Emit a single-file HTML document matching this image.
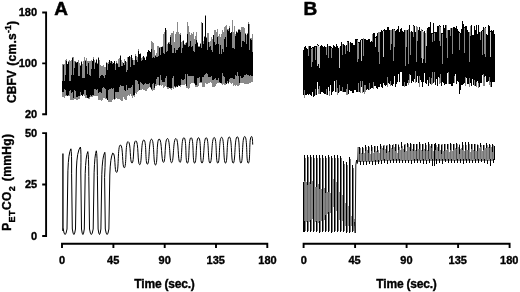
<!DOCTYPE html>
<html><head><meta charset="utf-8"><title>Figure</title>
<style>
html,body{margin:0;padding:0;background:#fff;}
svg{display:block;}
text{font-family:"Liberation Sans",sans-serif;font-weight:bold;fill:#000;stroke:#000;stroke-width:0.35px;}
.t{font-size:11px;}
.l{font-size:12px;}
.p{font-size:19px;stroke-width:0.5px;}
</style></head><body>
<svg width="520" height="292" viewBox="0 0 520 292">
<defs><filter id="soft" x="-5%" y="-5%" width="110%" height="110%"><feGaussianBlur stdDeviation="0.4"/></filter></defs>
<rect width="520" height="292" fill="#fff"/>
<!-- axes -->
<g stroke="#000" stroke-width="1.9" fill="none" stroke-linecap="butt">
<path d="M42.2 12.5H46.1V114.2H42.2M42.2 63.4H46.1"/>
<path d="M42.2 133.1H46.1V236H42.2M42.2 184.5H46.1"/>
<path d="M62 247.9V243.7H267.3V247.9M113.4 243.7V247.9M164.7 243.7V247.9M216 243.7V247.9"/>
<path d="M303.6 247.9V243.7H509.6V247.9M355.1 243.7V247.9M406.6 243.7V247.9M458.1 243.7V247.9"/>
</g>
<g shape-rendering="crispEdges" filter="url(#soft)">
<path d="M62.5 63.5V96.8M63.5 63.6V97.2M64.5 64.0V97.5M65.5 60.4V96.1M66.5 59.4V96.3M67.5 63.5V95.9M68.5 61.2V95.6M69.5 59.6V95.7M70.5 61.0V100.0M71.5 60.1V99.7M72.5 57.4V99.7M73.5 57.4V99.7M74.5 60.6V99.4M75.5 60.6V99.2M76.5 62.1V100.2M77.5 62.0V99.8M78.5 59.9V99.0M79.5 62.8V99.1M80.5 64.7V96.3M81.5 61.3V95.3M82.5 63.7V95.6M83.5 60.7V95.4M84.5 56.9V95.9M85.5 60.4V98.0M86.5 57.9V97.9M87.5 61.0V97.8M88.5 60.8V98.5M89.5 60.8V98.7M90.5 61.2V96.8M91.5 60.3V97.3M92.5 60.5V96.8M93.5 57.0V96.2M94.5 59.8V95.6M95.5 62.4V95.8M96.5 59.4V96.2M97.5 62.8V96.1M98.5 57.1V100.1M99.5 59.6V100.4M100.5 64.5V99.7M101.5 65.6V100.7M102.5 65.6V100.1M103.5 64.5V97.6M104.5 66.8V97.9M105.5 66.5V99.0M106.5 62.4V98.8M107.5 62.8V100.3M108.5 61.7V102.0M109.5 60.1V102.2M110.5 61.2V102.2M111.5 60.7V102.2M112.5 62.1V99.7M113.5 62.6V99.3M114.5 60.5V99.5M115.5 63.9V98.6M116.5 61.4V98.4M117.5 62.8V98.6M118.5 59.2V99.2M119.5 58.1V99.1M120.5 55.4V100.4M121.5 60.4V101.2M122.5 61.9V100.7M123.5 62.5V97.3M124.5 59.2V99.2M125.5 60.8V100.0M126.5 62.2V99.8M127.5 57.0V96.0M128.5 56.8V95.0M129.5 56.0V95.9M130.5 56.8V94.3M131.5 54.6V95.5M132.5 58.1V97.7M133.5 60.1V96.3M134.5 59.6V96.7M135.5 54.3V93.0M136.5 55.6V93.7M137.5 56.8V92.0M138.5 49.2V90.5M139.5 54.0V90.1M140.5 53.4V90.2M141.5 57.6V90.1M142.5 56.8V89.2M143.5 55.5V90.1M144.5 57.0V90.4M145.5 59.7V90.9M146.5 55.7V90.5M147.5 52.3V89.0M148.5 50.0V88.2M149.5 50.7V87.0M150.5 52.2V88.2M151.5 41.0V89.6M152.5 42.0V90.5M153.5 43.1V90.3M154.5 49.8V90.0M155.5 54.5V85.6M156.5 52.9V86.2M157.5 45.5V85.3M158.5 46.0V85.3M159.5 47.0V85.7M160.5 47.1V84.6M161.5 46.6V85.7M162.5 45.9V85.2M163.5 33.5V87.5M164.5 32.2V86.7M165.5 28.0V86.2M166.5 30.0V86.7M167.5 43.8V88.9M168.5 42.2V89.1M169.5 41.6V88.3M170.5 35.4V88.7M171.5 33.2V89.5M172.5 33.3V87.9M173.5 31.4V88.5M174.5 41.8V87.2M175.5 33.7V88.1M176.5 32.1V87.1M177.5 22.0V86.6M178.5 31.7V86.4M179.5 34.2V85.8M180.5 33.0V86.5M181.5 41.8V85.1M182.5 40.8V84.6M183.5 40.3V85.2M184.5 44.0V85.0M185.5 43.4V84.2M186.5 42.3V87.8M187.5 22.0V88.4M188.5 26.0V89.1M189.5 32.0V88.1M190.5 34.5V83.6M191.5 33.1V83.4M192.5 33.6V83.4M193.5 32.4V83.1M194.5 38.6V84.3M195.5 35.9V86.6M196.5 32.0V86.8M197.5 42.3V86.5M198.5 45.5V85.6M199.5 46.3V83.0M200.5 43.0V83.4M201.5 22.0V83.2M202.5 23.0V86.7M203.5 40.8V86.9M204.5 35.6V86.6M205.5 15.0V83.4M206.5 36.8V84.2M207.5 33.0V84.3M208.5 33.4V82.6M209.5 41.8V82.5M210.5 40.7V82.2M211.5 37.4V83.3M212.5 39.0V86.6M213.5 34.5V87.0M214.5 30.0V87.4M215.5 29.6V86.2M216.5 31.7V84.1M217.5 29.3V83.3M218.5 36.3V83.3M219.5 34.2V82.7M220.5 37.2V82.6M221.5 34.1V84.1M222.5 29.7V84.6M223.5 32.4V84.2M224.5 26.8V85.4M225.5 26.0V84.7M226.5 25.4V84.1M227.5 29.3V83.2M228.5 29.3V84.2M229.5 26.4V82.2M230.5 32.6V82.8M231.5 31.5V83.5M232.5 20.0V83.0M233.5 32.1V85.6M234.5 25.9V85.1M235.5 34.4V85.6M236.5 30.8V84.9M237.5 31.9V85.6M238.5 28.7V85.9M239.5 28.9V85.3M240.5 30.0V82.6M241.5 27.2V83.1M242.5 26.5V82.5M243.5 27.0V83.4M244.5 28.2V83.7M245.5 32.5V84.2M246.5 35.3V83.7M247.5 32.9V84.0M248.5 22.0V83.7M249.5 24.0V83.1M250.5 38.2V82.5M251.5 38.2V82.1M252.5 34.1V82.3" stroke="#8a8a8a" stroke-width="1" fill="none"/>
<path d="M62.5 81.0V92.2M63.5 65.4V91.8M64.5 81.2V88.9M65.5 75.3V89.7M66.5 61.3V95.4M67.5 63.9V95.9M68.5 61.9V94.6M69.5 81.2V90.8M70.5 80.7V89.8M71.5 74.6V93.1M72.5 58.2V92.4M73.5 74.6V97.9M74.5 67.9V90.2M75.5 62.4V91.1M76.5 63.0V96.7M77.5 62.2V96.6M78.5 75.7V95.8M79.5 76.2V96.4M80.5 66.4V91.7M81.5 61.6V94.9M82.5 77.9V95.5M83.5 77.6V93.6M84.5 77.5V90.2M85.5 61.0V90.2M86.5 66.2V95.1M87.5 74.3V97.5M88.5 62.6V98.2M89.5 74.8V97.1M90.5 75.6V95.2M91.5 69.1V96.2M92.5 61.1V94.5M93.5 58.5V95.3M94.5 68.8V89.1M95.5 62.6V88.6M96.5 60.0V89.9M97.5 63.6V89.2M98.5 57.5V92.9M99.5 77.7V91.7M100.5 75.5V91.7M101.5 74.9V92.5M102.5 75.4V88.3M103.5 75.9V87.2M104.5 78.1V88.3M105.5 75.0V88.9M106.5 63.2V98.3M107.5 70.0V99.9M108.5 63.5V89.5M109.5 60.2V88.7M110.5 62.6V89.4M111.5 61.4V88.1M112.5 64.0V88.8M113.5 63.0V88.4M114.5 61.4V99.1M115.5 69.5V91.7M116.5 62.7V92.1M117.5 64.0V91.8M118.5 66.6V91.9M119.5 66.7V87.0M120.5 56.0V85.1M121.5 65.6V85.7M122.5 66.3V85.8M123.5 62.9V85.9M124.5 64.6V90.2M125.5 60.9V90.5M126.5 71.5V84.5M127.5 70.0V89.9M128.5 56.9V88.3M129.5 56.3V87.9M130.5 66.8V87.6M131.5 54.7V87.4M132.5 60.1V85.1M133.5 64.7V94.9M134.5 64.8V94.7M135.5 56.1V80.4M136.5 59.6V80.1M137.5 61.5V80.9M138.5 51.1V84.3M139.5 54.2V90.0M140.5 53.7V82.1M141.5 60.5V82.8M142.5 60.1V83.6M143.5 55.8V84.7M144.5 57.5V83.8M145.5 60.0V83.4M146.5 57.3V83.8M147.5 52.4V83.9M148.5 50.1V83.9M149.5 51.2V82.6M150.5 52.2V86.5M151.5 48.8V88.9M152.5 57.8V83.8M153.5 56.6V83.2M154.5 57.7V88.3M155.5 55.8V84.1M156.5 56.6V78.6M157.5 56.6V77.0M158.5 55.6V76.6M159.5 47.6V84.7M160.5 55.3V75.3M161.5 46.6V80.3M162.5 47.1V81.6M163.5 53.4V81.6M164.5 54.2V81.6M165.5 28.0V77.9M166.5 52.1V75.6M167.5 51.3V87.0M168.5 42.6V87.2M169.5 44.1V88.1M170.5 37.2V87.5M171.5 44.9V87.5M172.5 52.7V77.8M173.5 52.9V76.4M174.5 48.0V86.3M175.5 52.7V87.2M176.5 50.0V86.0M177.5 50.0V86.5M178.5 48.0V84.7M179.5 47.4V85.8M180.5 34.9V85.3M181.5 53.2V79.2M182.5 47.6V80.3M183.5 40.6V80.3M184.5 44.7V79.2M185.5 44.5V74.3M186.5 42.8V86.4M187.5 33.8V74.0M188.5 46.9V75.6M189.5 46.3V75.8M190.5 40.6V75.7M191.5 47.4V75.5M192.5 45.9V75.6M193.5 51.1V76.1M194.5 52.1V83.3M195.5 44.2V85.3M196.5 39.6V85.4M197.5 43.4V78.0M198.5 47.0V78.3M199.5 46.9V77.4M200.5 43.8V82.0M201.5 48.3V81.9M202.5 23.0V77.3M203.5 43.9V76.7M204.5 37.1V74.5M205.5 16.3V74.4M206.5 38.1V73.4M207.5 50.2V73.7M208.5 41.6V77.0M209.5 47.0V77.1M210.5 45.7V76.9M211.5 50.2V76.4M212.5 52.0V79.6M213.5 34.6V79.7M214.5 42.0V78.8M215.5 45.0V78.0M216.5 43.6V79.5M217.5 36.5V79.6M218.5 44.4V78.2M219.5 54.1V81.5M220.5 44.9V82.5M221.5 53.6V82.9M222.5 49.4V73.2M223.5 52.3V76.2M224.5 39.4V76.5M225.5 36.7V82.9M226.5 47.0V83.5M227.5 30.3V81.4M228.5 30.6V83.4M229.5 27.8V78.6M230.5 33.1V78.2M231.5 32.1V78.4M232.5 47.7V77.8M233.5 47.5V79.0M234.5 49.2V79.2M235.5 35.8V74.7M236.5 32.4V75.7M237.5 33.2V71.9M238.5 29.9V76.1M239.5 29.7V83.4M240.5 32.0V76.0M241.5 47.2V77.6M242.5 40.9V78.0M243.5 41.3V77.2M244.5 41.6V74.9M245.5 33.8V74.9M246.5 43.7V74.3M247.5 34.4V75.3M248.5 23.5V74.5M249.5 49.5V75.5M250.5 39.0V75.4M251.5 39.7V76.0M252.5 51.7V76.2" stroke="#000" stroke-width="1" fill="none"/>
</g>
<g shape-rendering="crispEdges" filter="url(#soft)">
<path d="M303.5 50.0V94.5M304.5 46.5V97.3M305.5 45.8V95.4M306.5 48.0V94.9M307.5 48.5V94.4M308.5 45.7V95.2M309.5 45.6V93.6M310.5 45.8V95.4M311.5 48.2V95.8M312.5 46.7V97.6M313.5 46.5V96.7M314.5 46.1V96.1M315.5 45.7V94.4M316.5 45.9V94.5M317.5 44.4V92.2M318.5 44.9V93.3M319.5 46.9V92.9M320.5 46.1V93.5M321.5 45.2V92.4M322.5 46.1V92.3M323.5 47.0V92.7M324.5 46.2V94.4M325.5 46.8V94.4M326.5 46.5V93.6M327.5 44.1V94.7M328.5 45.6V94.9M329.5 45.7V95.3M330.5 45.7V94.5M331.5 47.4V94.5M332.5 47.6V92.0M333.5 45.3V90.9M334.5 45.6V90.9M335.5 46.7V91.8M336.5 44.2V90.8M337.5 46.0V94.3M338.5 47.7V92.9M339.5 46.9V91.2M340.5 46.3V90.6M341.5 42.0V91.1M342.5 43.7V91.1M343.5 43.7V91.9M344.5 45.2V92.3M345.5 45.5V91.6M346.5 44.6V93.8M347.5 41.1V94.0M348.5 40.6V94.4M349.5 42.5V90.3M350.5 42.1V90.7M351.5 42.8V91.1M352.5 42.5V92.7M353.5 45.4V93.4M354.5 45.3V89.5M355.5 39.1V90.1M356.5 38.8V92.3M357.5 39.3V91.7M358.5 41.9V91.0M359.5 42.0V92.2M360.5 39.6V91.6M361.5 38.8V91.9M362.5 39.2V91.9M363.5 38.5V92.4M364.5 39.1V92.5M365.5 38.7V91.1M366.5 40.3V89.7M367.5 40.1V88.7M368.5 39.3V89.8M369.5 38.7V89.0M370.5 42.3V88.5M371.5 41.3V88.2M372.5 33.7V87.6M373.5 33.1V87.6M374.5 32.9V86.2M375.5 36.9V86.4M376.5 36.0V88.1M377.5 32.8V88.6M378.5 31.5V87.4M379.5 31.6V87.1M380.5 31.6V84.2M381.5 30.3V86.8M382.5 30.6V88.1M383.5 29.9V87.1M384.5 29.1V85.1M385.5 30.2V85.7M386.5 29.7V85.2M387.5 27.0V85.5M388.5 27.1V82.7M389.5 29.6V84.4M390.5 29.7V85.3M391.5 29.7V85.4M392.5 28.9V85.9M393.5 28.5V84.0M394.5 29.1V84.3M395.5 31.1V87.0M396.5 29.7V84.0M397.5 28.5V82.0M398.5 26.0V81.9M399.5 31.6V82.1M400.5 28.6V82.1M401.5 28.4V72.0M402.5 30.6V85.9M403.5 31.5V86.3M404.5 30.4V86.0M405.5 30.4V86.1M406.5 30.6V85.6M407.5 29.9V83.4M408.5 28.6V83.6M409.5 25.2V81.5M410.5 31.7V84.6M411.5 30.8V83.4M412.5 31.5V81.2M413.5 25.0V82.0M414.5 25.5V86.9M415.5 32.3V82.0M416.5 26.7V81.7M417.5 26.6V84.1M418.5 30.0V83.4M419.5 27.4V85.5M420.5 30.5V84.2M421.5 29.9V81.6M422.5 30.0V87.0M423.5 31.6V82.1M424.5 31.1V82.4M425.5 32.9V83.4M426.5 29.5V84.1M427.5 27.5V83.8M428.5 27.3V85.9M429.5 27.2V81.7M430.5 22.0V83.8M431.5 32.7V83.9M432.5 33.1V83.0M433.5 23.0V82.6M434.5 32.0V81.3M435.5 31.6V84.5M436.5 32.4V84.3M437.5 25.5V86.3M438.5 25.7V83.5M439.5 24.7V82.8M440.5 26.0V81.9M441.5 32.7V86.4M442.5 33.2V81.7M443.5 25.0V82.5M444.5 28.3V85.2M445.5 24.9V84.1M446.5 24.8V83.7M447.5 30.6V83.5M448.5 29.8V82.6M449.5 30.0V83.5M450.5 27.8V83.5M451.5 27.6V85.5M452.5 28.0V85.6M453.5 26.5V83.2M454.5 26.9V82.2M455.5 27.9V84.2M456.5 26.0V83.8M457.5 29.2V81.4M458.5 30.5V82.1M459.5 32.1V94.0M460.5 32.5V90.0M461.5 28.5V84.6M462.5 21.0V84.6M463.5 24.0V83.8M464.5 27.2V83.3M465.5 25.8V84.8M466.5 25.5V85.0M467.5 29.5V83.8M468.5 31.5V83.7M469.5 31.5V85.5M470.5 25.8V82.5M471.5 25.4V85.8M472.5 34.7V84.7M473.5 34.6V84.8M474.5 26.2V85.3M475.5 30.1V85.6M476.5 25.3V86.4M477.5 33.5V81.3M478.5 25.0V86.7M479.5 32.2V86.9M480.5 31.8V83.0M481.5 30.8V82.6M482.5 30.1V85.2M483.5 27.0V85.0M484.5 27.8V84.9M485.5 27.4V82.3M486.5 34.3V81.5M487.5 35.3V81.7M488.5 25.4V81.3M489.5 26.0V84.0M490.5 30.8V86.1M491.5 29.6V87.0M492.5 31.4V81.9M493.5 30.1V82.3M494.5 33.6V81.6" stroke="#000" stroke-width="1" fill="none"/>
<path d="M304.5 89.6V98.3M308.5 45.5V55.7M311.5 49.3V67.1M312.5 48.0V62.4M315.5 46.5V60.1M315.5 89.4V95.4M318.5 88.5V94.3M319.5 86.4V93.9M326.5 46.8V55.2M326.5 89.0V94.6M328.5 45.7V58.1M329.5 90.6V96.3M331.5 48.4V58.0M336.5 79.9V91.8M337.5 88.2V95.3M339.5 85.2V92.2M342.5 43.8V55.2M342.5 86.6V92.1M345.5 45.7V53.8M346.5 89.4V94.8M347.5 41.5V50.9M347.5 83.9V95.0M357.5 40.0V61.5M358.5 43.3V59.0M358.5 83.1V92.0M360.5 81.4V92.6M362.5 81.4V92.9M363.5 38.2V56.3M364.5 85.3V93.5M365.5 84.8V92.1M369.5 83.3V90.0M372.5 33.6V42.1M373.5 82.0V88.6M378.5 31.7V52.4M379.5 31.6V63.8M387.5 77.0V86.5M390.5 30.3V50.3M390.5 81.2V86.3M391.5 30.0V44.0M393.5 29.4V60.8M394.5 29.9V46.6M404.5 81.9V87.0M405.5 30.4V66.1M406.5 30.3V47.1M408.5 29.1V64.0M408.5 79.5V84.6M409.5 74.1V82.5M410.5 31.9V54.7M413.5 26.2V36.7M415.5 71.3V83.0M416.5 26.4V62.2M417.5 27.4V40.7M419.5 75.7V86.5M421.5 29.4V58.0M423.5 32.2V59.2M425.5 33.3V62.5M429.5 76.5V82.7M431.5 78.3V84.9M432.5 33.5V41.9M432.5 72.4V84.0M434.5 33.3V40.9M434.5 72.4V82.3M439.5 26.0V41.0M439.5 78.2V83.8M440.5 26.8V46.1M440.5 74.1V82.9M442.5 33.5V64.2M446.5 24.9V38.4M447.5 30.2V58.0M448.5 71.7V83.6M450.5 27.5V36.0M452.5 27.8V54.0M454.5 76.1V83.2M459.5 33.1V49.8M464.5 28.1V52.5M465.5 76.8V85.8M469.5 31.9V61.6M469.5 78.3V86.5M470.5 25.6V36.0M474.5 79.9V86.3M476.5 82.0V87.4M478.5 82.6V87.7M480.5 31.7V40.2M482.5 31.1V55.1M483.5 74.3V86.0M484.5 27.5V53.9M484.5 76.6V85.9M485.5 28.4V57.2M489.5 77.3V85.0M490.5 81.9V87.1" stroke="#858585" stroke-width="1" fill="none"/>
<path d="M317.5 44.7V66.2M318.5 46.2V63.5M319.5 47.3V67.5M339.5 47.4V67.5M349.5 43.1V52.1M361.5 39.9V61.4M375.5 38.4V47.4M383.5 31.1V57.0M422.5 30.5V62.8M426.5 29.7V45.5M490.5 31.8V56.8" stroke="#c4c4c4" stroke-width="1" fill="none"/>
<path d="M312.5 91.7V98.6M317.5 82.4V93.2M328.5 86.8V95.9M330.5 85.4V95.5M334.5 81.2V91.9M361.5 87.3V92.9M383.5 82.6V88.1M394.5 75.5V85.3M398.5 73.6V82.9M400.5 72.2V83.1M410.5 74.9V85.6M414.5 79.0V87.9M417.5 75.5V85.1M420.5 79.5V85.2M424.5 73.4V83.4M427.5 79.8V84.8M436.5 79.2V85.3M438.5 77.0V84.5M447.5 73.0V84.5M455.5 74.1V85.2M466.5 78.1V86.0M472.5 78.7V85.7M482.5 75.1V86.2M485.5 75.8V83.3" stroke="#fff" stroke-width="1" fill="none"/>
</g>
<path d="M62.9 153.5V231" stroke="#333" stroke-width="1.7" fill="none"/>
<path d="M63.2 228.5 L63.2 229 Q65.1 240 67.0 229 L67.9 170.8 Q68.5 152.8 70.9 148.8 Q71.8 151.8 71.6 173.8 L72.3 229 Q73.9 240 75.5 229 L76.4 169.0 Q77.0 151.0 80.4 147.0 Q81.3 150.0 80.8 172.0 L81.5 229 Q82.9 240 84.3 229 L85.2 173.6 Q85.8 155.6 87.8 151.6 Q88.7 154.6 88.8 176.6 L89.5 229 Q91.3 240 93.2 229 L94.1 172.8 Q94.7 154.8 96.3 150.8 Q97.2 153.8 97.4 175.8 L98.1 229 Q99.5 240 100.9 229 L101.8 174.3 Q102.4 156.3 104.8 152.3 Q105.7 155.3 104.6 177.3 L105.3 229 Q107.1 240 108.9 229 L109.8 175.0 Q110.4 157.0 112.8 153.0 C115.7 153.0 114.3 172.4 116.6 172.4 C118.9 172.4 117.5 145.0 120.4 145.0 C123.3 145.0 122.0 167.8 124.3 167.8 C126.6 167.8 125.2 141.6 128.1 141.6 C131.0 141.6 129.7 163.1 132.0 163.1 C134.3 163.1 132.9 140.8 135.8 140.8 C138.7 140.8 137.4 164.7 139.7 164.7 C142.0 164.7 140.9 140.0 143.8 140.0 C146.7 140.0 145.1 164.2 147.4 164.2 C149.7 164.2 148.6 139.2 151.5 139.2 C154.4 139.2 153.2 165.0 155.5 165.0 C157.8 165.0 156.3 139.0 159.2 139.0 C162.1 139.0 161.2 162.4 163.5 162.4 C165.8 162.4 164.5 138.5 167.4 138.5 C170.3 138.5 169.3 162.7 171.6 162.7 C173.9 162.7 173.0 138.5 175.9 138.5 C178.8 138.5 177.7 162.4 180.0 162.4 C182.3 162.4 181.0 137.7 183.9 137.7 C186.8 137.7 185.1 163.1 187.4 163.1 C189.7 163.1 188.2 137.7 191.1 137.7 C194.0 137.7 192.3 163.1 194.6 163.1 C196.9 163.1 195.6 137.7 198.5 137.7 C201.4 137.7 199.7 163.1 202.0 163.1 C204.3 163.1 203.3 137.7 206.2 137.7 C209.1 137.7 207.7 163.1 210.0 163.1 C212.3 163.1 211.3 137.5 214.2 137.5 C217.1 137.5 215.5 163.1 217.8 163.1 C220.1 163.1 218.7 137.3 221.6 137.3 C224.5 137.3 223.2 163.1 225.5 163.1 C227.8 163.1 226.4 137.0 229.3 137.0 C232.2 137.0 230.9 163.1 233.2 163.1 C235.5 163.1 234.4 136.8 237.3 136.8 C240.2 136.8 238.6 163.1 240.9 163.1 C243.2 163.1 241.8 136.5 244.7 136.5 C247.6 136.5 246.0 163.1 248.3 163.1 C250.6 163.1 248.7 136.5 251.6 136.5 C252.4 136.5 252.5 140 252.7 144.6" stroke="#000" stroke-width="1" fill="none" stroke-linejoin="round"/>
<g shape-rendering="crispEdges" filter="url(#soft)">
<path d="M305.5 178.8V221.5M306.5 182.1V222.4M308.5 182.7V221.6M309.5 181.8V222.0M311.5 181.6V220.7M312.5 180.8V219.0M314.5 185.3V222.1M315.5 187.1V221.5M317.5 184.7V222.4M318.5 184.0V222.6M320.5 186.7V221.9M321.5 189.3V220.8M323.5 188.5V219.5M324.5 187.6V220.4M326.5 191.4V216.2M327.5 191.7V214.4M329.5 189.9V213.2M330.5 192.6V212.5" stroke="#858585" stroke-width="1" fill="none"/>
<path d="M304.5 180.8V220.5M307.5 184.7V220.6M310.5 183.6V219.7M316.5 186.7V221.4M319.5 188.7V220.9M325.5 193.4V215.2M328.5 191.9V212.2" stroke="#6c6c6c" stroke-width="1" fill="none"/>
<path d="M303.5 182V232M304.5 155.2V180.8M304.5 220.5V231.9M307.5 154.9V184.7M307.5 220.6V232.4M310.5 154.6V183.6M310.5 219.7V231.9M313.5 155.2V231.8M316.5 155.3V186.7M316.5 221.4V232.0M319.5 155.3V188.7M319.5 220.9V233.1M322.5 155.0V232.2M325.5 155.8V193.4M325.5 215.2V232.3M328.5 154.5V191.9M328.5 212.2V232.4M331.5 155.5V232.5M334.5 155.4V232.4M337.5 155.4V232.2M340.5 155.7V232.3M343.5 161.2V231.8M346.5 162.2V233.1M349.5 156.9V233.1M352.5 165.1V232.2" stroke="#000" stroke-width="1" fill="none"/>
<path d="M305.5 157.7V180.8M305.5 220.5V230.9M308.5 157.4V184.7M308.5 220.6V231.4M311.5 157.1V183.6M311.5 219.7V230.9M314.5 157.7V187.3M314.5 221.1V230.8M317.5 157.8V186.7M317.5 221.4V231.0M320.5 157.8V188.7M320.5 220.9V232.1M323.5 157.5V190.5M323.5 218.5V231.2M326.5 158.3V193.4M326.5 215.2V231.3M329.5 157.0V191.9M329.5 212.2V231.4M332.5 158.0V231.5M335.5 157.9V231.4M338.5 157.9V231.2M341.5 158.2V231.3M344.5 163.7V230.8M347.5 164.7V232.1M350.5 159.4V232.1M353.5 167.6V231.2" stroke="#7a7a7a" stroke-width="1" fill="none"/>
<path d="M333.5 178.5V206.8M336.5 182.4V211.4M339.5 191.9V219.8M342.5 195.4V221.4M345.5 202.8V226.0M348.5 206.4V226.0M351.5 215.6V226.0M354.5 218.7V226.0" stroke="#8e8e8e" stroke-width="1" fill="none"/>
</g>
<path d="M354.6 222 L355.2 233 L355.8 165 L356.6 160 L357.3 163.5 L357.8 158 L358.2 147" stroke="#000" stroke-width="0.9" fill="none"/>
<g shape-rendering="crispEdges" filter="url(#soft)">
<polygon points="358,148.3 362,147.8 366,147.3 370,146.8 374,146.4 378,146.0 382,145.6 386,145.2 390,144.8 394,144.4 398,144.3 402,144.3 406,144.3 410,144.3 414,144.3 418,144.3 422,144.3 426,144.3 430,144.3 434,144.3 438,144.3 442,144.3 446,144.3 450,144.3 454,144.3 458,144.3 462,144.3 466,144.3 470,144.3 474,144.4 478,144.5 482,144.5 486,144.6 490,144.7 494,144.8 494,160.5 490,160.5 486,160.5 482,160.6 478,160.6 474,160.6 470,160.6 466,160.6 462,160.7 458,160.7 454,160.7 450,160.7 446,160.7 442,160.8 438,160.8 434,160.8 430,160.8 426,160.8 422,160.9 418,160.9 414,160.9 410,160.9 406,160.9 402,161.0 398,161.0 394,161.0 390,161.2 386,161.3 382,161.4 378,161.6 374,161.8 370,162.0 366,162.1 362,162.3 358,162.5" fill="#8c8c8c"/>
<path d="M361.5 140.0V153.2M364.5 140.0V152.8M367.5 140.0V150.2M370.5 140.0V153.8M373.5 140.0V152.9M376.5 140.0V150.7M379.5 140.0V152.5M378.5 140.0V149.5M382.5 140.0V148.2M385.5 140.0V148.9M388.5 140.0V151.1M391.5 140.0V147.5M394.5 140.0V147.1M397.5 140.0V152.5M400.5 140.0V150.0M399.5 140.0V147.1M403.5 140.0V148.6M402.5 140.0V145.6M406.5 140.0V151.4M409.5 140.0V146.8M412.5 140.0V148.7M415.5 140.0V150.3M418.5 140.0V148.9M421.5 140.0V149.7M424.5 140.0V148.9M427.5 140.0V149.9M426.5 140.0V145.3M430.5 140.0V145.6M433.5 140.0V151.0M437.5 140.0V146.8M436.5 140.0V145.1M440.5 140.0V150.0M443.5 140.0V150.9M446.5 140.0V149.8M449.5 140.0V151.7M452.5 140.0V150.9M455.5 140.0V147.7M458.5 140.0V147.4M461.5 140.0V147.5M460.5 140.0V148.6M464.5 140.0V151.3M463.5 140.0V145.2M467.5 140.0V150.2M466.5 140.0V144.8M470.5 140.0V152.1M473.5 140.0V149.7M476.5 140.0V150.9M479.5 140.0V148.1M482.5 140.0V150.9M485.5 140.0V148.2M488.5 140.0V146.9M491.5 140.0V146.5M494.5 140.0V150.9" stroke="#fff" stroke-width="1" fill="none"/>
<path d="M359.5 153.9V161.8M362.5 154.3V161.1M365.5 150.7V161.3M368.5 153.1V161.1M371.5 150.8V161.4M380.5 148.9V160.1M383.5 149.8V159.9M389.5 152.3V160.2M392.5 149.2V159.9M398.5 149.9V159.9M416.5 151.4V159.8M419.5 148.5V160.1M422.5 150.8V159.8M425.5 150.6V160.3M428.5 151.2V159.4M431.5 148.3V159.4M444.5 151.0V159.5M456.5 149.1V159.8M465.5 150.4V159.5M468.5 149.7V159.7M474.5 150.5V159.2M477.5 151.1V159.6M489.5 148.3V159.4" stroke="#505050" stroke-width="1" fill="none"/>
<path d="M374.5 151.5V160.5M377.5 152.3V160.7M386.5 152.8V160.4M395.5 151.0V159.7M401.5 147.6V160.0M404.5 151.7V160.1M407.5 147.4V160.2M410.5 150.9V160.4M413.5 150.8V159.8M435.5 149.7V159.8M438.5 150.8V159.9M441.5 153.5V159.8M447.5 149.3V159.7M450.5 150.1V159.7M453.5 150.4V160.2M459.5 153.7V159.3M462.5 149.6V159.5M471.5 149.2V160.0M480.5 146.8V159.3M483.5 150.4V159.7M486.5 147.9V160.0M492.5 152.4V159.7" stroke="#747474" stroke-width="1" fill="none"/>
<path d="M359.5 147.2V153.9M362.5 147.3V154.3M365.5 145.3V150.7M368.5 146.0V153.1M371.5 145.1V150.8M374.5 146.2V151.5M377.5 145.5V152.3M380.5 143.5V148.9M383.5 145.7V149.8M386.5 145.8V152.8M389.5 143.7V152.3M392.5 144.7V149.2M395.5 144.1V151.0M398.5 145.0V149.9M401.5 142.3V147.6M404.5 145.0V151.7M407.5 142.7V147.4M410.5 142.9V150.9M413.5 143.5V150.8M416.5 143.6V151.4M419.5 142.4V148.5M422.5 144.1V150.8M425.5 142.9V150.6M428.5 142.4V151.2M431.5 144.0V148.3M435.5 142.7V149.7M438.5 143.6V150.8M441.5 144.5V153.5M444.5 143.7V151.0M447.5 143.8V149.3M450.5 142.9V150.1M453.5 144.2V150.4M456.5 143.3V149.1M459.5 144.9V153.7M462.5 142.2V149.6M465.5 142.3V150.4M468.5 142.2V149.7M471.5 143.7V149.2M474.5 144.1V150.5M477.5 144.7V151.1M480.5 142.6V146.8M483.5 145.0V150.4M486.5 143.1V147.9M489.5 143.5V148.3M492.5 143.5V152.4M360.5 161.3V164.5M363.5 160.6V165.3M366.5 160.8V164.7M369.5 160.6V164.1M372.5 160.9V164.8M375.5 160.0V164.5M378.5 160.2V164.1M381.5 159.6V163.9M384.5 159.4V162.7M387.5 159.9V164.4M390.5 159.7V162.9M393.5 159.4V163.4M396.5 159.2V163.4M399.5 159.4V163.3M402.5 159.5V162.8M405.5 159.6V163.3M408.5 159.7V162.9M411.5 159.9V163.6M414.5 159.3V162.5M417.5 159.3V162.9M420.5 159.6V163.0M423.5 159.3V163.6M426.5 159.8V163.6M429.5 158.9V163.4M432.5 158.9V166.0M436.5 159.3V163.7M439.5 159.4V163.2M442.5 159.3V163.8M445.5 159.0V162.2M448.5 159.2V162.6M451.5 159.2V162.9M454.5 159.7V163.4M457.5 159.3V163.1M460.5 158.8V163.4M463.5 159.0V163.6M466.5 159.0V162.9M469.5 159.2V163.2M472.5 159.5V162.8M475.5 158.7V163.3M478.5 159.1V162.6M481.5 158.8V162.0M484.5 159.2V163.3M487.5 159.5V163.7M490.5 158.9V166.0M493.5 159.2V163.0M434.5 144V166M494.5 146V160" stroke="#000" stroke-width="1" fill="none"/>
</g>
<!-- tick labels -->
<g class="t" text-anchor="end">
<text x="37" y="16.1">180</text>
<text x="37" y="67.4">100</text>
<text x="37.2" y="118.4">20</text>
<text x="37.2" y="137.2">50</text>
<text x="37.2" y="188.4">25</text>
<text x="37.2" y="240">0</text>
</g>
<g class="t" text-anchor="middle">
<text x="62" y="264.4">0</text>
<text x="113.2" y="264.4">45</text>
<text x="164.7" y="264.4">90</text>
<text x="215.8" y="264.4">135</text>
<text x="267.5" y="264.4">180</text>
<text x="303.8" y="264.4">0</text>
<text x="354.6" y="264.4">45</text>
<text x="406.4" y="264.4">90</text>
<text x="457.8" y="264.4">135</text>
<text x="509.2" y="264.4">180</text>
</g>
<g class="l" text-anchor="middle">
<text x="164.5" y="287.7" letter-spacing="-0.2">Time (sec.)</text>
<text x="406.5" y="287.7" letter-spacing="-0.2">Time (sec.)</text>
<text transform="translate(15.6 102.9) rotate(-90)" text-anchor="start">CBFV<tspan dx="4.6" letter-spacing="0.25">(cm.s</tspan><tspan font-size="8.5" dy="-4.5" letter-spacing="0.25">-1</tspan><tspan dy="4.5">)</tspan></text>
<text transform="translate(11.2 230.8) rotate(-90)" text-anchor="start" letter-spacing="0.4">P<tspan font-size="9" dy="3.8">ET</tspan><tspan dy="-3.8">CO</tspan><tspan font-size="9" dy="3.8">2</tspan><tspan dy="-3.8" dx="4.6">(mmHg)</tspan></text>
</g>
<text class="p" x="54.2" y="14.9">A</text>
<text class="p" x="303.4" y="14.9">B</text>
</svg>
</body></html>
